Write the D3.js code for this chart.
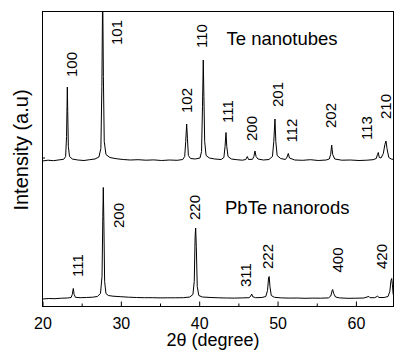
<html>
  <head>
    <style>
      body { margin: 0; background: #fff; }
      text { font-family: "Liberation Sans", Arial, sans-serif; fill: #000; }
      .scan { fill: none; stroke: #000; stroke-width: 1px; stroke-linejoin: round; }
    </style>
  </head>
  <body>
    <script src="https://d3js.org/d3.v7.min.js"></script>
    <script>
    //data: [2theta, intensity (a.u.)]
    var teScan = [
      [20,145.5],[20.7,146.3],[21.4,145.8],[22.1,146.6],[22.7,147.2],[22.95,150],[23.07,170],[23.13,200],
      [23.17,219.5],[23.22,195],[23.3,160],[23.45,150],[23.8,147.5],[24.5,146.5],[25.3,146],[26.0,146.8],
      [26.7,147.5],[27.2,149.5],[27.45,158],[27.58,220],[27.68,320],[27.77,230],[27.88,165],[28.1,152],
      [28.6,149],[29.4,147.8],[30.3,147],[31.2,146.5],[32.2,146.8],[33.2,146.3],[34.2,146.6],[35.2,146],
      [36.2,146.5],[37.2,146.2],[37.9,147],[38.15,150],[38.28,165],[38.4,182.5],[38.5,168],[38.62,151],
      [38.9,148],[39.5,147.5],[40.1,148.5],[40.3,155],[40.42,200],[40.52,246.5],[40.6,210],[40.7,165],
      [40.88,151],[41.3,148.5],[42,147.5],[42.8,147],[43.15,149],[43.3,160],[43.42,174],[43.52,160],
      [43.68,150],[44.1,147.5],[44.8,146.8],[45.5,146.3],[45.95,147],[46.14,150],[46.3,147],[46.8,147.2],
      [46.98,150],[47.12,155.5],[47.26,150],[47.5,147.5],[48.2,146.5],[48.9,147],[49.35,150],[49.52,165],
      [49.67,187.5],[49.78,165],[49.95,151],[50.4,148],[51.0,147],[51.22,149.5],[51.37,153],[51.52,148.5],
      [52.2,146.5],[53.2,146.2],[54.2,146.8],[55.2,146],[56.2,146.5],[56.6,147.5],[56.78,152],[56.91,161.5],
      [57.04,152],[57.3,147.5],[58.2,146.3],[59.3,146.5],[60.4,146],[61.4,146.3],[62.2,146.8],[62.6,148],
      [62.75,152],[62.86,154],[62.98,149],[63.2,148.5],[63.5,153],[63.7,162],[63.84,165.5],[63.97,158],
      [64.2,149],[64.5,147.5],[64.8,147]
    ];

    var pbteScan = [
      [20,7.5],[20.8,8],[21.6,7.8],[22.4,8.3],[23.2,8.5],[23.65,9],[23.8,12],[23.93,18],[24.04,12],
      [24.2,9.2],[24.8,8.8],[25.6,9],[26.4,9.3],[27.0,10],[27.4,13],[27.6,30],[27.7,90],[27.76,119],
      [27.83,85],[27.93,25],[28.1,13],[28.4,11],[29,10.3],[30,9.8],[31,9.3],[32,9],[33,8.8],[34,8.8],
      [35,8.6],[36,8.7],[37,8.7],[38,8.8],[38.8,9.5],[39.2,12],[39.37,25],[39.48,70],[39.55,78.5],
      [39.63,60],[39.75,20],[39.95,11],[40.4,9.5],[41.5,9],[42.5,8.7],[43.5,8.5],[44.5,8.4],[45.5,8.6],
      [46.35,8.8],[46.55,10],[46.7,12.5],[46.83,9.8],[47.2,8.8],[48,9],[48.5,10],[48.72,16],[48.86,29],
      [48.93,30],[49.03,20],[49.2,11],[49.6,9.2],[50.5,8.6],[51.5,8.4],[52.5,8.5],[53.5,8.2],[54.5,8.4],
      [55.5,8.3],[56.5,8.6],[56.8,10.5],[56.97,16],[57.04,17],[57.16,13],[57.4,9.5],[57.9,8.6],[59,8.2],
      [60,8.3],[61,8.5],[61.55,9.8],[61.67,10],[61.8,8.8],[62.4,8.8],[62.78,10.3],[62.95,9],[63.6,9],
      [64.1,10],[64.33,15],[64.48,26],[64.57,28],[64.66,22],[64.75,13],[64.8,11]
    ];

    var teLabels = ["100","101","102","110","111","200","201","112","202","113","210"];
    var teLabelTheta = [24.44,30.15,39.08,41.0,44.31,47.37,50.7,52.42,57.52,62.05,64.54];
    var teLabelInt = [229.5,261.5,193.5,258.5,183.5,165.5,199.5,164,178.5,166.5,187.5];

    var pbteLabels = ["111","200","220","311","222","400","420"];
    var pbteLabelTheta = [25.23,30.4,40.1,46.55,49.42,58.35,63.91];
    var pbteLabelInt = [29.5,78.5,86.5,19.5,37.5,34,37.5];

    var xMajor = [20,30,40,50,60];
    var xMinor = [25,35,45,55];

    //dimensions specs (plot box edges)
    var width = 395, height = 350;
    var boxL = 42.5, boxR = 393.5, boxT = 11.5, boxB = 306.5;

    var svg = d3.select("body")
        .append("svg")
        .attr("width", width)
        .attr("height", height);

    var x = d3.scaleLinear().domain([20, 64.8]).range([boxL, boxR]);
    var y = d3.scaleLinear().domain([0, 295]).range([boxB, boxT]);

    svg.append("clipPath").attr("id", "plot")
      .append("rect")
        .attr("x", boxL).attr("y", boxT)
        .attr("width", boxR - boxL).attr("height", boxB - boxT);

    var line = d3.line()
        .x(function(d) { return x(d[0]); })
        .y(function(d) { return y(d[1]); });

    var g = svg.append("g").attr("clip-path", "url(#plot)");
    g.append("path").attr("class", "scan").attr("d", line(teScan));
    g.append("path").attr("class", "scan").attr("d", line(pbteScan));

    //bottom axis, ticks point inward
    var xAxis = svg.append("g")
        .attr("transform", "translate(0," + boxB + ")")
        .call(d3.axisBottom(x).tickValues(xMajor).tickSize(-5).tickPadding(11).tickFormat(d3.format("d")));
    xAxis.select(".domain").remove();
    xAxis.selectAll("text").style("font-size", "16px");

    svg.append("g")
        .attr("transform", "translate(0," + boxB + ")")
        .call(d3.axisBottom(x).tickValues(xMinor).tickSize(-3).tickFormat(""))
        .select(".domain").remove();

    //frame
    svg.append("rect")
        .attr("x", boxL).attr("y", boxT)
        .attr("width", boxR - boxL).attr("height", boxB - boxT)
        .attr("fill", "none").attr("stroke", "#000").attr("stroke-width", 1);

    //small left tick
    svg.append("line")
        .attr("x1", boxL).attr("x2", boxL + 2.5)
        .attr("y1", y(148.5)).attr("y2", y(148.5))
        .attr("stroke", "#000");

    function peakLabels(names, th, val) {
      svg.selectAll(null)
        .data(names)
        .enter().append("text")
          .attr("transform", function(d, i) { return "translate(" + x(th[i]) + "," + y(val[i]) + ") rotate(-90)"; })
          .style("font-size", "15px")
          .text(function(d) { return d; });
    }
    peakLabels(teLabels, teLabelTheta, teLabelInt);
    peakLabels(pbteLabels, pbteLabelTheta, pbteLabelInt);

    svg.append("text").attr("x", 226.5).attr("y", 45).style("font-size", "18.5px").text("Te nanotubes");
    svg.append("text").attr("x", 225).attr("y", 214).style("font-size", "18.5px").text("PbTe nanorods");

    svg.append("text")
        .attr("x", 213).attr("y", 346)
        .attr("text-anchor", "middle")
        .style("font-size", "18px")
        .text("2\u03b8 (degree)");

    svg.append("text")
        .attr("transform", "translate(28,150) rotate(-90)")
        .attr("text-anchor", "middle")
        .style("font-size", "20px")
        .text("Intensity (a.u)");
    </script>
  </body>
</html>
